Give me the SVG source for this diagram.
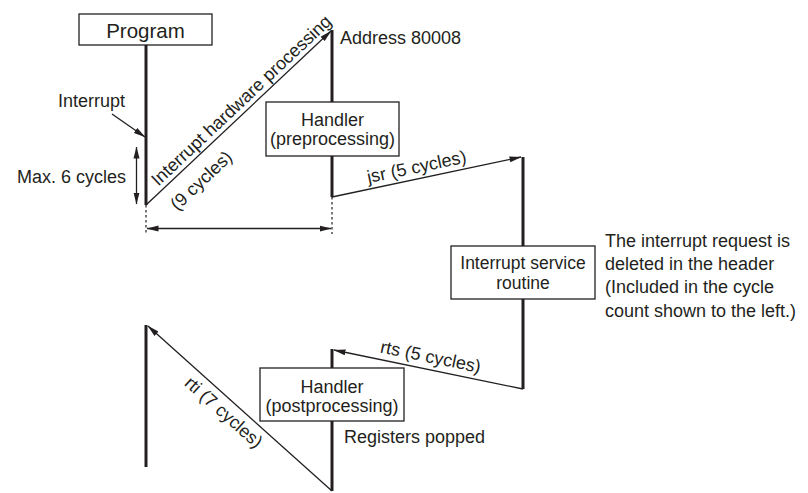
<svg xmlns="http://www.w3.org/2000/svg" width="808" height="493" viewBox="0 0 808 493">
<style>
text{font-family:"Liberation Sans",Arial,sans-serif;font-size:18px;fill:#231f20}
.mid{text-anchor:middle}
.end{text-anchor:end}
.box{fill:#fff;stroke:#231f20;stroke-width:1.3}
.life{stroke:#231f20;stroke-width:3;fill:none}
.dot{stroke:#231f20;stroke-width:1.2;stroke-dasharray:2.5,2.5;fill:none}
.con{stroke:#231f20;stroke-width:1.3;fill:none}
</style>
<defs>
<marker id="ah" markerUnits="userSpaceOnUse" markerWidth="12" markerHeight="7" refX="11.5" refY="3" orient="auto-start-reverse" viewBox="0 0 12 6">
<path d="M0,0 L12,3 L0,6 z" fill="#231f20"/>
</marker>
</defs>
<rect width="808" height="493" fill="#fff"/>
<g id="connectors">
<line class="life" x1="146" y1="45" x2="146" y2="205"/>
<line class="dot" x1="146" y1="205" x2="146" y2="234"/>
<line class="life" x1="332" y1="30" x2="332" y2="197"/>
<line class="dot" x1="332" y1="197" x2="332" y2="234"/>
<line class="life" x1="523" y1="157" x2="523" y2="389"/>
<line class="life" x1="332" y1="349" x2="332" y2="491"/>
<line class="life" x1="146" y1="325" x2="146" y2="467"/>
<line class="con" x1="146" y1="205" x2="331" y2="31" marker-end="url(#ah)"/>
<line class="con" x1="332" y1="197" x2="521" y2="157" marker-end="url(#ah)"/>
<line class="con" x1="523" y1="389" x2="334" y2="350" marker-end="url(#ah)"/>
<line class="con" x1="332" y1="491" x2="148" y2="326" marker-end="url(#ah)"/>
<line class="con" x1="112" y1="114" x2="145" y2="137" marker-end="url(#ah)"/>
<line class="con" x1="136.5" y1="147" x2="136.5" y2="204" marker-start="url(#ah)" marker-end="url(#ah)"/>
<line class="con" x1="147" y1="228.5" x2="331" y2="228.5" marker-start="url(#ah)" marker-end="url(#ah)"/>
<text transform="translate(146,205) rotate(-43.2)" x="141" y="-5" class="mid">Interrupt hardware processing</text>
<text transform="translate(146,205) rotate(-43.2)" x="57" y="26" class="mid">(9 cycles)</text>
<text transform="translate(332,197) rotate(-11.9)" x="89" y="-6" class="mid">jsr (5 cycles)</text>
<text transform="translate(333,350) rotate(11.6)" x="97" y="-7" class="mid">rts (5 cycles)</text>
<text transform="translate(148,326) rotate(41.7)" x="114" y="20" class="mid">rti (7 cycles)</text>
</g>
<g id="program">
<rect class="box" x="79" y="14" width="133" height="31"/>
<text x="145.5" y="38" class="mid" style="font-size:20.5px">Program</text>
</g>
<g id="handler-pre">
<rect class="box" x="266" y="102" width="133" height="54"/>
<text x="332.5" y="125.5" class="mid">Handler</text>
<text x="332.5" y="145" class="mid">(preprocessing)</text>
</g>
<g id="isr">
<rect class="box" x="451" y="246" width="144" height="53"/>
<text x="523" y="269" class="mid" style="font-size:17.5px">Interrupt service</text>
<text x="523" y="289" class="mid" style="font-size:17.5px">routine</text>
</g>
<g id="handler-post">
<rect class="box" x="260" y="368" width="144" height="53"/>
<text x="332" y="392.5" class="mid">Handler</text>
<text x="332" y="411.5" class="mid">(postprocessing)</text>
</g>
<g id="labels">
<text x="340" y="44">Address 80008</text>
<text x="58" y="106.5">Interrupt</text>
<text x="126" y="183" class="end">Max. 6 cycles</text>
<text x="344" y="443">Registers popped</text>
<text x="605" y="246.5">The interrupt request is</text>
<text x="605" y="270">deleted in the header</text>
<text x="605" y="293">(Included in the cycle</text>
<text x="605" y="316.5">count shown to the left.)</text>
</g>
</svg>
